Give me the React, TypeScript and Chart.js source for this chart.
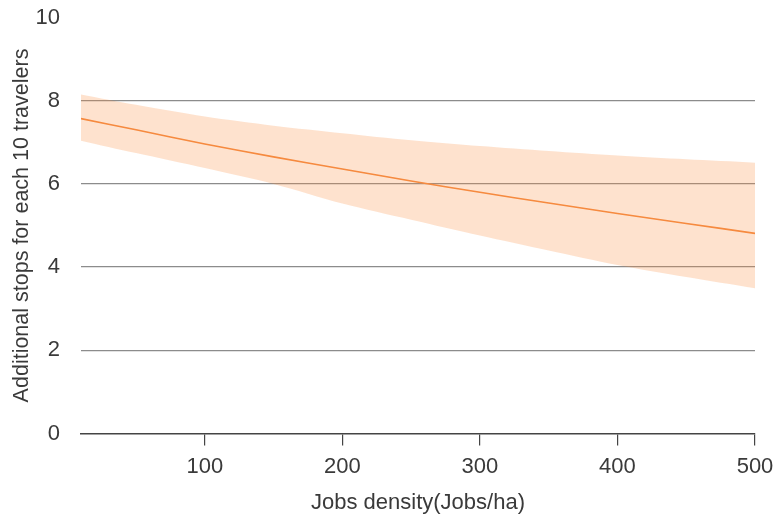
import React, { useEffect, useRef } from "react";
import { Chart, registerables } from "chart.js";

Chart.register(...registerables);

// Jobs density (Jobs/ha)
const densities = [10, 50, 100, 150, 200, 250, 300, 350, 400, 450, 500];
// Predicted additional stops for each 10 travelers
const meanStops = [7.57, 7.3, 6.96, 6.65, 6.36, 6.07, 5.8, 5.54, 5.29, 5.05, 4.81];
const upperStops = [8.15, 7.9, 7.62, 7.4, 7.22, 7.05, 6.91, 6.79, 6.68, 6.59, 6.51];
const lowerStops = [7.04, 6.74, 6.38, 6.0, 5.53, 5.14, 4.76, 4.4, 4.05, 3.76, 3.49];

const xTickValues = [100, 200, 300, 400, 500];
const yTickValues = [0, 2, 4, 6, 8, 10];

const xTitle = "Jobs density(Jobs/ha)";
const yTitle = "Additional stops for each 10 travelers";

const FONT = "Arial, 'Liberation Sans', sans-serif";
const TEXT = "#3a3a3a";

export default function App() {
  const ref = useRef<HTMLCanvasElement | null>(null);

  useEffect(() => {
    if (!ref.current) return;
    const pts = (ys: number[]) => densities.map((x, i) => ({ x, y: ys[i] }));
    const chart = new Chart(ref.current, {
      type: "line",
      data: {
        datasets: [
          {
            label: "mean",
            data: pts(meanStops),
            borderColor: "#f68a3f",
            borderWidth: 1.6,
            pointRadius: 0,
            fill: false,
            tension: 0.3,
          },
          {
            label: "upper",
            data: pts(upperStops),
            borderWidth: 0,
            borderColor: "rgba(0,0,0,0)",
            backgroundColor: "rgba(253,141,60,0.25)",
            pointRadius: 0,
            fill: "+1",
            tension: 0.3,
          },
          {
            label: "lower",
            data: pts(lowerStops),
            borderWidth: 0,
            borderColor: "rgba(0,0,0,0)",
            pointRadius: 0,
            fill: false,
            tension: 0.3,
          },
        ],
      },
      options: {
        animation: false,
        responsive: false,
        maintainAspectRatio: false,
        layout: { padding: { left: 0, top: 17.5, right: 21, bottom: 0 } },
        plugins: {
          legend: { display: false },
          tooltip: { enabled: false },
        },
        scales: {
          x: {
            type: "linear",
            min: 10,
            max: 500,
            afterBuildTicks: (s: any) => {
              s.ticks = xTickValues.map((v) => ({ value: v }));
            },
            afterFit: (s: any) => {
              s.height = 86.5;
              s.paddingLeft = 0;
              s.paddingRight = 0;
            },
            border: { display: true, color: "#444", width: 1.5 },
            grid: {
              drawOnChartArea: false,
              drawTicks: true,
              tickLength: 12,
              color: "#444",
              lineWidth: 1.2,
            },
            ticks: {
              color: TEXT,
              font: { family: FONT, size: 22 },
              padding: 8,
              maxRotation: 0,
              callback: (v: any) => String(v),
            },
            title: {
              display: true,
              text: xTitle,
              color: TEXT,
              font: { family: FONT, size: 22 },
              padding: { top: 0, bottom: 4 },
            },
          },
          y: {
            type: "linear",
            min: 0,
            max: 10,
            afterBuildTicks: (s: any) => {
              s.ticks = yTickValues.map((v) => ({ value: v }));
            },
            afterFit: (s: any) => {
              s.width = 81;
              s.paddingTop = 0;
              s.paddingBottom = 0;
            },
            border: { display: false },
            grid: {
              drawTicks: false,
              color: (ctx: any) =>
                ctx.tick && (ctx.tick.value === 0 || ctx.tick.value === 10)
                  ? "rgba(0,0,0,0)"
                  : "#8c8c8c",
              lineWidth: 1.3,
            },
            ticks: {
              color: TEXT,
              font: { family: FONT, size: 22 },
              padding: 21,
              callback: (v: any) => String(v),
            },
            title: {
              display: true,
              text: yTitle,
              color: TEXT,
              font: { family: FONT, size: 21.5 },
              padding: { top: 9, bottom: 0 },
            },
          },
        },
      },
    });
    return () => chart.destroy();
  }, []);

  return (
    <div style={{ position: "fixed", left: 0, top: 0, width: 776, height: 520 }}>
      <canvas ref={ref} width={776} height={520} style={{ width: 776, height: 520 }} />
    </div>
  );
}
